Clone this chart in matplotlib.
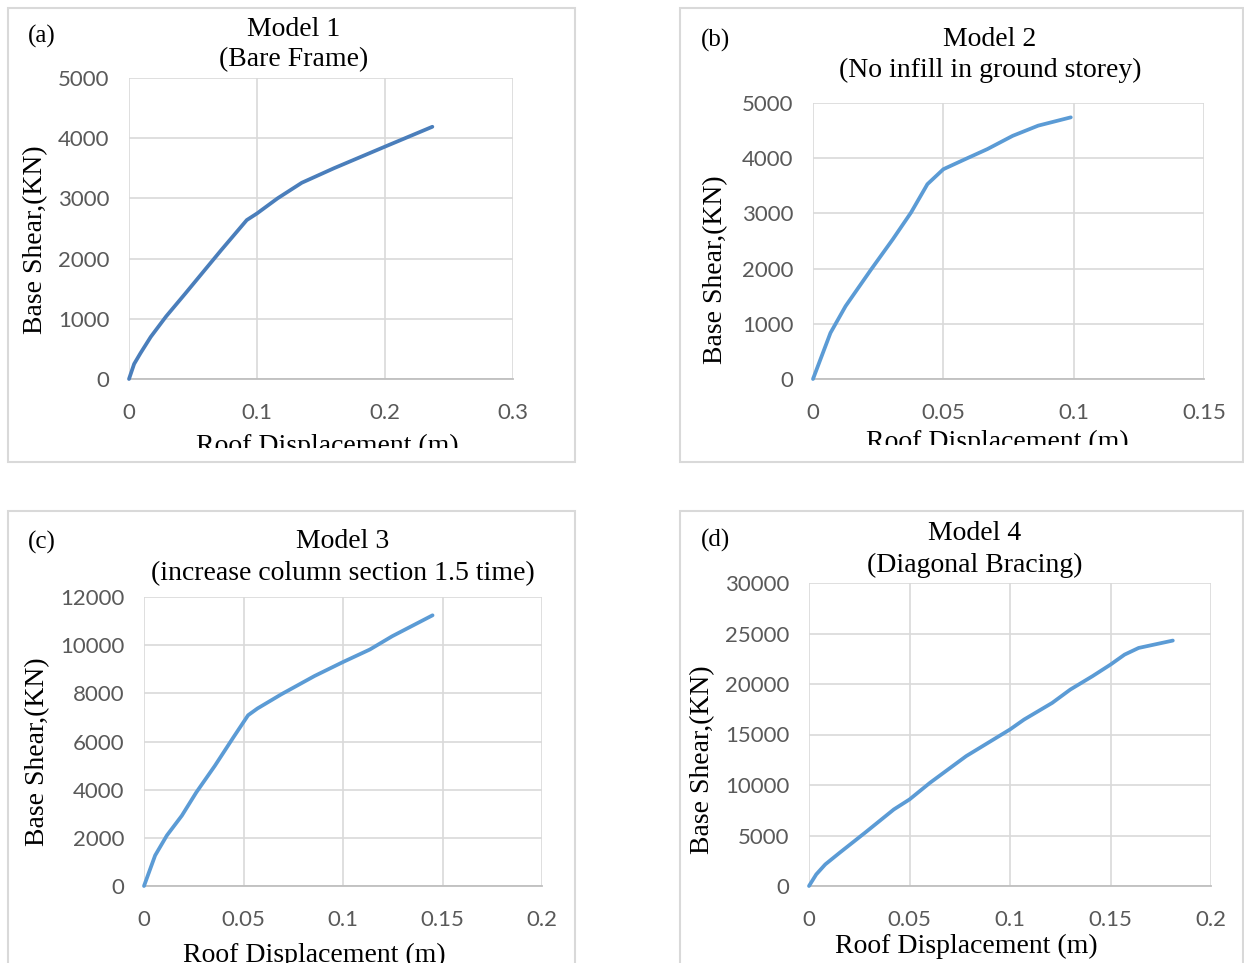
import matplotlib
matplotlib.use("Agg")
import matplotlib.pyplot as plt
from matplotlib.patches import Rectangle
from matplotlib.transforms import Bbox

# Pushover curves (roof displacement in m, base shear in kN)
m1_disp = [0, 0.004, 0.009, 0.017, 0.029, 0.044, 0.072, 0.092, 0.100, 0.116, 0.135, 0.160, 0.200, 0.237]
m1_shear = [0, 250, 430, 700, 1040, 1420, 2140, 2640, 2750, 3000, 3260, 3500, 3860, 4190]

m2_disp = [0, 0.0067, 0.0125, 0.0223, 0.0306, 0.0376, 0.0439, 0.0500, 0.0585, 0.0669, 0.0766, 0.0864, 0.0989]
m2_shear = [0, 835, 1320, 1985, 2530, 3015, 3530, 3800, 3985, 4165, 4405, 4590, 4740]

m3_disp = [0, 0.0056, 0.0115, 0.019, 0.0263, 0.0356, 0.0449, 0.0523, 0.057, 0.069, 0.0857, 0.100, 0.1135, 0.1247, 0.145]
m3_shear = [0, 1270, 2100, 2920, 3890, 4990, 6170, 7090, 7370, 7960, 8720, 9300, 9820, 10370, 11240]

m4_disp = [0, 0.0036, 0.0081, 0.0153, 0.0279, 0.0422, 0.050, 0.0602, 0.0782, 0.100, 0.107, 0.121, 0.130,
           0.141, 0.150, 0.157, 0.164, 0.181]
m4_shear = [0, 1150, 2140, 3300, 5280, 7580, 8570, 10220, 12860, 15500, 16480, 18130, 19450,
            20770, 21920, 22910, 23570, 24300]

panel_tags = ["(a)", "(b)", "(c)", "(d)"]
title_top = ["Model 1", "Model 2", "Model 3", "Model 4"]
title_bottom = ["(Bare Frame)", "(No infill in ground storey)",
                "(increase column section 1.5 time)", "(Diagonal Bracing)"]
x_ticks = [[0, 0.1, 0.2, 0.3], [0, 0.05, 0.1, 0.15], [0, 0.05, 0.1, 0.15, 0.2], [0, 0.05, 0.1, 0.15, 0.2]]
x_ticklabels = [["0", "0.1", "0.2", "0.3"], ["0", "0.05", "0.1", "0.15"],
                ["0", "0.05", "0.1", "0.15", "0.2"], ["0", "0.05", "0.1", "0.15", "0.2"]]
y_ticks = [list(range(0, 5001, 1000)), list(range(0, 5001, 1000)),
           list(range(0, 12001, 2000)), list(range(0, 30001, 5000))]

W, H = 1244, 963
SERIF = "Liberation Serif"
TICK_FONT = "Lato"
GRID = "#d9d9d9"

fig = plt.figure(figsize=(W / 100, H / 100), dpi=100)


def px_box(left, top, right, bottom):
    return [left / W, 1 - bottom / H, (right - left) / W, (bottom - top) / H]


def fig_text(x, y, s, clip_bottom=None, va="center", **kw):
    t = fig.text(x / W, 1 - y / H, s, ha="center", va=va, family=SERIF, color="black", **kw)
    if clip_bottom is not None:
        t.set_clip_box(Bbox.from_extents(0, H - clip_bottom, W, H))
        t.set_clip_on(True)
    return t


# panel frames (left, top, right, bottom) in pixels
frames = [(8, 8, 575, 462), (680, 8, 1243, 462), (8, 511, 575, 975), (680, 511, 1243, 975)]
for l, t, r, b in frames:
    fig.patches.append(Rectangle((l / W, 1 - b / H), (r - l) / W, (b - t) / H,
                                 transform=fig.transFigure, fill=False,
                                 edgecolor=GRID, linewidth=1.5))

plot_areas = [(129, 78, 513, 379), (813, 103, 1204, 379), (144, 597, 542, 886), (809, 583, 1211, 886)]
curves = [(m1_disp, m1_shear, "#4a7ebb"), (m2_disp, m2_shear, "#5b9bd5"),
          (m3_disp, m3_shear, "#5b9bd5"), (m4_disp, m4_shear, "#5b9bd5")]

for i, (area, (xs, ys, color)) in enumerate(zip(plot_areas, curves)):
    ax = fig.add_axes(px_box(*area))
    ax.plot(xs, ys, color=color, linewidth=2.7, solid_capstyle="round",
            solid_joinstyle="round", clip_on=False, zorder=3)
    ax.set_xlim(x_ticks[i][0], x_ticks[i][-1])
    ax.set_ylim(y_ticks[i][0], y_ticks[i][-1])
    ax.set_xticks(x_ticks[i])
    ax.set_xticklabels(x_ticklabels[i])
    ax.set_yticks(y_ticks[i])
    ax.grid(True, color=GRID, linewidth=1.2)
    ax.set_axisbelow(True)
    for side in ["top", "right", "left"]:
        ax.spines[side].set_visible(False)
    ax.spines["bottom"].set_color("#bfbfbf")
    ax.spines["bottom"].set_linewidth(1.3)
    ax.tick_params(length=0, labelsize=16, labelcolor="#595959", pad=17)
    ax.tick_params(axis="y", pad=14)
    for lab in ax.get_xticklabels() + ax.get_yticklabels():
        lab.set_family(TICK_FONT)

# annotations: tag, two-line title, y label, x label (pixel positions)
tag_pos = [(42, 36), (715, 40), (42, 542), (716, 540)]
title_pos = [(294, 30, 60), (990, 40, 70), (343, 542, 574), (975, 533, 565)]
ylabel_pos = [(36, 240), (716, 270), (38, 752), (703, 760)]
xlabel_pos = [(327, 453, 448), (997, 449, 445), (314, 962, None), (966, 953, None)]

for i in range(4):
    fig_text(*tag_pos[i], panel_tags[i], fontsize=18)
    x, y1, y2 = title_pos[i]
    fig_text(x, y1, title_top[i], fontsize=20)
    fig_text(x, y2, title_bottom[i], fontsize=20)
    fig_text(*ylabel_pos[i], "Base Shear,(KN)", fontsize=20, rotation=90)
    x, yb, clip = xlabel_pos[i]
    fig_text(x, yb, "Roof Displacement (m)", fontsize=20, va="baseline", clip_bottom=clip)

fig.savefig("out.png", dpi=100)
